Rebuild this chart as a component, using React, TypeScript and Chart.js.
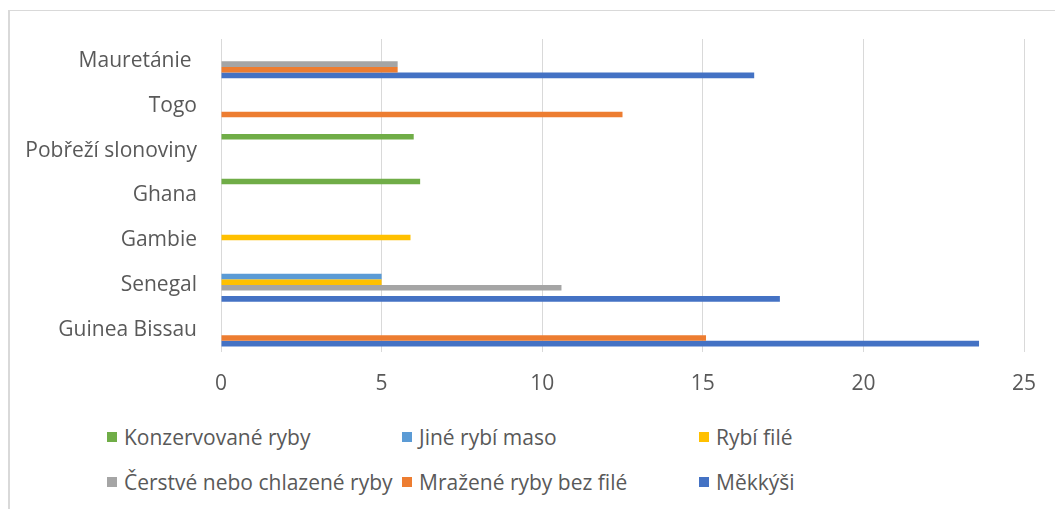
import React, { useEffect, useRef } from "react";
import { Chart, registerables } from "chart.js";

Chart.register(...registerables);

const categories = ["Mauretánie ", "Togo", "Pobřeží slonoviny", "Ghana", "Gambie", "Senegal", "Guinea Bissau"];
const konzervovaneRyby = [null, null, 6.0, 6.2, null, null, null];
const jineRybiMaso = [null, null, null, null, null, 5.0, null];
const rybiFile = [null, null, null, null, 5.9, 5.0, null];
const cerstveRyby = [5.5, null, null, null, null, 10.6, null];
const mrazeneRyby = [5.5, 12.5, null, null, null, null, 15.1];
const mekkysi = [16.6, null, null, null, null, 17.4, 23.6];
const xMin = 0;
const xMax = 25;
const xStep = 5;

const seriesNames = [
  "Konzervované ryby",
  "Jiné rybí maso",
  "Rybí filé",
  "Čerstvé nebo chlazené ryby",
  "Mražené ryby bez filé",
  "Měkkýši",
];
const seriesValues = [konzervovaneRyby, jineRybiMaso, rybiFile, cerstveRyby, mrazeneRyby, mekkysi];
const seriesColors = ["#70AD47", "#5B9BD5", "#FFC000", "#A5A5A5", "#ED7D31", "#4472C4"];

const FONT = "'Open Sans', 'Noto Sans', sans-serif";
const TEXT = "#595959";
const CW = 1045;
const CH = 400;

export default function App() {
  const ref = useRef<HTMLCanvasElement | null>(null);

  useEffect(() => {
    if (!ref.current) return;
    const chart = new Chart(ref.current, {
      type: "bar",
      data: {
        labels: categories,
        datasets: seriesNames.map((name, i) => ({
          label: name,
          data: seriesValues[i] as any,
          backgroundColor: seriesColors[i],
          borderWidth: 0,
          barPercentage: 1,
          categoryPercentage: 0.75,
        })),
      },
      options: {
        indexAxis: "y",
        animation: false,
        responsive: false,
        devicePixelRatio: 1,
        layout: { padding: { top: 28, right: 31, left: 0, bottom: 0 } },
        plugins: {
          legend: { display: false },
          tooltip: { enabled: false },
          title: { display: false },
        },
        scales: {
          x: {
            type: "linear",
            min: xMin,
            max: xMax,
            ticks: {
              stepSize: xStep,
              color: TEXT,
              font: { family: FONT, size: 21 },
              padding: 19,
            },
            grid: { color: "#D9D9D9", lineWidth: 1, drawTicks: false },
            border: { display: false },
            afterFit: (scale: any) => {
              scale.height = 59;
              scale.paddingLeft = 0;
              scale.paddingRight = 0;
            },
          },
          y: {
            type: "category",
            ticks: {
              color: TEXT,
              font: { family: FONT, size: 21 },
              padding: 24,
            },
            grid: { display: false, drawTicks: false },
            border: { display: false },
            afterFit: (scale: any) => {
              scale.width = 211;
              scale.paddingTop = 0;
              scale.paddingBottom = 0;
            },
          },
        },
      },
    });
    return () => chart.destroy();
  }, []);

  const colLeft = [97, 392, 689];
  const rowTop = [411, 456];

  return (
    <div
      style={{
        position: "absolute",
        left: 8,
        top: 10,
        width: 1047,
        height: 499,
        boxSizing: "border-box",
        borderLeft: "2px solid #D9D9D9",
        borderTop: "1px solid #D9D9D9",
        overflow: "hidden",
        background: "#fff",
      }}
    >
      <canvas
        ref={ref}
        width={CW}
        height={CH}
        style={{ position: "absolute", left: 0, top: 0, width: CW, height: CH }}
      />
      {seriesNames.map((name, i) => {
        const col = i % 3;
        const row = Math.floor(i / 3);
        return (
          <div
            key={name}
            style={{
              position: "absolute",
              left: colLeft[col],
              top: rowTop[row],
              height: 30,
              display: "flex",
              alignItems: "center",
              fontFamily: FONT,
              fontSize: 21,
              color: TEXT,
              whiteSpace: "nowrap",
            }}
          >
            <span
              style={{
                display: "inline-block",
                width: 10,
                height: 10,
                background: seriesColors[i],
                marginRight: 7,
              }}
            />
            <span>{name}</span>
          </div>
        );
      })}
    </div>
  );
}
